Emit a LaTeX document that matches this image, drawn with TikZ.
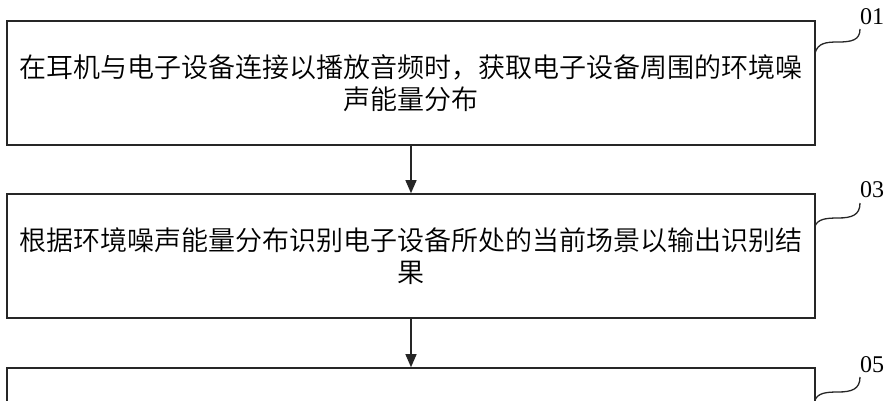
\documentclass[tikz,border=0pt]{standalone}
\usepackage{fontspec}
\setmainfont{Liberation Serif}
\newfontfamily\cjk{Noto Sans CJK SC DemiLight}
\usetikzlibrary{arrows.meta}
\tikzset{
  stepbox/.style={draw=black!85, line width=1.6pt, minimum width=808pt, minimum height=124pt, inner sep=0pt, align=center, font=\cjk\fontsize{27pt}{32pt}\selectfont},
  flow/.style={draw=black!85, line width=1.3pt, -{Triangle[length=13pt,width=11pt]}},
  lead/.style={draw=black!85, line width=1.3pt},
  lab/.style={font=\fontsize{24pt}{24pt}\selectfont, inner sep=0pt}
}
\begin{document}
\begin{tikzpicture}[x=1pt,y=-1pt]
\useasboundingbox (0,0) rectangle (891,400);
\clip (0,0) rectangle (891,400);
\node[stepbox] (b1) at (411,83) {在耳机与电子设备连接以播放音频时，获取电子设备周围的环境噪\\声能量分布};
\node[stepbox] (b2) at (411,256) {根据环境噪声能量分布识别电子设备所处的当前场景以输出识别结\\果};
\node[stepbox] (b3) at (411,430) {};
\draw[flow] (b1.south) -- (b2.north);
\draw[flow] (b2.south) -- (b3.north);
\node[lab] (l1) at (872,17) {01};
\node[lab] (l2) at (872,190) {03};
\node[lab] (l3) at (872,365) {05};
\coordinate (s1) at (815,53);
\coordinate (e1) at (860,29);
\coordinate (s2) at (815,226);
\coordinate (e2) at (860,203);
\coordinate (s3) at (815,400);
\coordinate (e3) at (860,377);
\draw[lead] (s1) .. controls (818,43) and (826,42) .. (838,42) .. controls (852,42) and (860,40) .. (e1);
\draw[lead] (s2) .. controls (818,219) and (826,218) .. (838,218) .. controls (852,218) and (860,215) .. (e2);
\draw[lead] (s3) .. controls (818,393) and (826,392) .. (838,392) .. controls (852,392) and (860,389) .. (e3);
\end{tikzpicture}
\end{document}
